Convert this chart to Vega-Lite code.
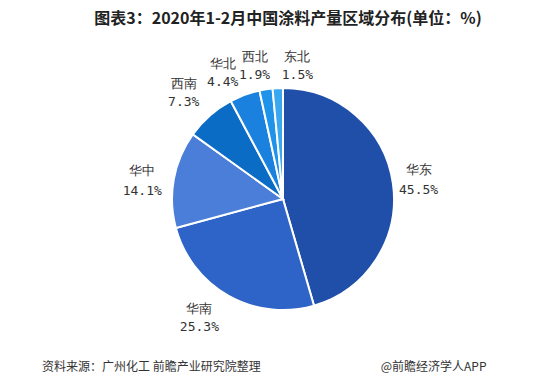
{
  "$schema": "https://vega.github.io/schema/vega-lite/v6.json",
  "background": "white",
  "padding": {"left": 10, "right": 0, "top": 11, "bottom": 0},
  "title": {"text": "图表3：2020年1-2月中国涂料产量区域分布(单位：%)", "fontSize": 16, "font": "Noto Sans CJK SC", "fontWeight": "bold", "color": "#222222", "offset": 22, "anchor": "middle", "dx": 5},
  "config": {"view": {"stroke": null}, "concat": {"spacing": 0}},
  "vconcat": [
    {
      "width": 546,
      "height": 300,
      "title": {"text": "资料来源：广州化工 前瞻产业研究院整理　　　　　　　　　　@前瞻经济学人APP", "orient": "bottom", "anchor": "start", "dx": 32, "offset": 13, "fontSize": 12, "fontWeight": "normal", "font": "Noto Sans CJK SC", "color": "#333333"},
      "data": {"values": [
        {"region": "华东", "value": 45.5},
        {"region": "华南", "value": 25.3},
        {"region": "华中", "value": 14.1},
        {"region": "西南", "value": 7.3},
        {"region": "华北", "value": 4.4},
        {"region": "西北", "value": 1.9},
        {"region": "东北", "value": 1.5}
      ]},
      "transform": [
        {"stack": "value", "groupby": [], "sort": [{"field": "value", "order": "descending"}], "as": ["v0", "v1"]},
        {"calculate": "(datum.v0 + datum.v1) / 2", "as": "mid"},
        {"calculate": "datum.region + '\\n' + format(datum.value, '.1f') + '%'", "as": "label"}
      ],
      "layer": [
        {
          "mark": {"type": "arc", "outerRadius": 111, "stroke": "white", "strokeWidth": 2},
          "encoding": {
            "theta": {"field": "v0", "type": "quantitative", "scale": {"domain": [0, 100]}},
            "theta2": {"field": "v1"},
            "color": {"field": "region", "type": "nominal", "legend": null,
              "scale": {"domain": ["华东", "华南", "华中", "西南", "华北", "西北", "东北"],
                        "range": ["#1f4fa8", "#2e64c8", "#4a7ed8", "#0b6cc6", "#1a82de", "#1f92ea", "#3aa8f0"]}}
          }
        },
        {
          "transform": [{"filter": {"field": "region", "equal": "华东"}}],
          "mark": {"type": "text", "radius": 140, "dx": -3, "dy": -9, "font": "DejaVu Sans Mono", "fontSize": 13, "lineBreak": "\n", "lineHeight": 20, "color": "#333333", "align": "center", "baseline": "middle"},
          "encoding": {"theta": {"field": "mid", "type": "quantitative", "scale": {"domain": [0, 100]}}, "text": {"field": "label"}}
        },
        {
          "transform": [{"filter": {"field": "region", "equal": "华中"}}],
          "mark": {"type": "text", "radius": 140, "dx": -3, "dy": -3, "font": "DejaVu Sans Mono", "fontSize": 13, "lineBreak": "\n", "lineHeight": 20, "color": "#333333", "align": "center", "baseline": "middle"},
          "encoding": {"theta": {"field": "mid", "type": "quantitative", "scale": {"domain": [0, 100]}}, "text": {"field": "label"}}
        },
        {
          "transform": [{"filter": {"field": "region", "equal": "西南"}}],
          "mark": {"type": "text", "radius": 140, "dx": -7, "dy": -10, "font": "DejaVu Sans Mono", "fontSize": 13, "lineBreak": "\n", "lineHeight": 18, "color": "#333333", "align": "center", "baseline": "middle"},
          "encoding": {"theta": {"field": "mid", "type": "quantitative", "scale": {"domain": [0, 100]}}, "text": {"field": "label"}}
        },
        {
          "transform": [{"filter": {"field": "region", "equal": "华北"}}],
          "mark": {"type": "text", "radius": 140, "dx": -12, "dy": -4, "font": "DejaVu Sans Mono", "fontSize": 13, "lineBreak": "\n", "lineHeight": 18, "color": "#333333", "align": "center", "baseline": "middle"},
          "encoding": {"theta": {"field": "mid", "type": "quantitative", "scale": {"domain": [0, 100]}}, "text": {"field": "label"}}
        },
        {
          "transform": [{"filter": {"field": "region", "equal": "西北"}}],
          "mark": {"type": "text", "radius": 140, "dx": -7, "dy": -4, "font": "DejaVu Sans Mono", "fontSize": 13, "lineBreak": "\n", "lineHeight": 18, "color": "#333333", "align": "center", "baseline": "middle"},
          "encoding": {"theta": {"field": "mid", "type": "quantitative", "scale": {"domain": [0, 100]}}, "text": {"field": "label"}}
        },
        {
          "transform": [{"filter": {"field": "region", "equal": "东北"}}],
          "mark": {"type": "text", "radius": 140, "dx": 21, "dy": -2, "font": "DejaVu Sans Mono", "fontSize": 13, "lineBreak": "\n", "lineHeight": 18, "color": "#333333", "align": "center", "baseline": "middle"},
          "encoding": {"theta": {"field": "mid", "type": "quantitative", "scale": {"domain": [0, 100]}}, "text": {"field": "label"}}
        },
        {
          "transform": [{"filter": {"field": "region", "equal": "华南"}}],
          "mark": {"type": "text", "radius": 140, "dx": -15, "dy": -12, "font": "DejaVu Sans Mono", "fontSize": 13, "lineBreak": "\n", "lineHeight": 18, "color": "#333333", "align": "center", "baseline": "middle"},
          "encoding": {"theta": {"field": "mid", "type": "quantitative", "scale": {"domain": [0, 100]}}, "text": {"field": "label"}}
        }
      ]
    }
  ]
}
